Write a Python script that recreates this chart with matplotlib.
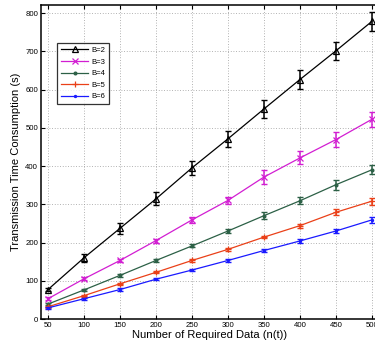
import matplotlib
matplotlib.use("Agg")
import matplotlib.pyplot as plt

plt.rcParams['font.family'] = ['Liberation Sans', 'DejaVu Sans']

n_data = [50, 100, 150, 200, 250, 300, 350, 400, 450, 500]

b2 = [77, 160, 237, 314, 395, 471, 549, 626, 701, 778]
b3 = [53, 105, 153, 205, 259, 310, 371, 421, 469, 522]
b4 = [39, 76, 114, 153, 191, 230, 270, 309, 351, 390]
b5 = [32, 61, 92, 122, 153, 182, 214, 244, 279, 308]
b6 = [29, 53, 77, 104, 128, 153, 179, 204, 230, 259]

e2 = [5, 10, 14, 17, 18, 20, 23, 24, 24, 26]
e3 = [4, 4, 5, 5, 9, 10, 19, 17, 19, 20]
e4 = [3, 3, 3, 3, 4, 5, 9, 9, 13, 12]
e5 = [3, 3, 3, 3, 3, 3, 3, 5, 8, 9]
e6 = [3, 3, 3, 3, 3, 3, 3, 4, 6, 8]

labels = ['B=2', 'B=3', 'B=4', 'B=5', 'B=6']
colors = ['#000000', '#d21ed2', '#2c6046', '#ea4018', '#1a1aff']
markers = ['^', 'x', '.', '+', '.']
msizes = [4.5, 4, 4, 5, 3]

fig = plt.figure(figsize=(3.75, 3.47), dpi=100)
W, H = 375.0, 347.0
ax = fig.add_axes([40.8 / W, (H - 319) / H, 338.2 / W, 314 / H])

series = [b2, b3, b4, b5, b6]
errs = [e2, e3, e4, e5, e6]
handles = []
for y, e, lab, c, m, ms in zip(series, errs, labels, colors, markers, msizes):
    mfc = 'none' if m == '^' else c
    ax.errorbar(n_data, y, yerr=e, fmt='none', ecolor=c, elinewidth=1.1,
                capsize=2.5, capthick=1.0)
    line, = ax.plot(n_data, y, color=c, lw=0.9, marker=m, ms=ms,
                    mfc=mfc, mec=c, mew=0.9, label=lab)
    handles.append(line)

ax.set_xlim(40, 510)
ax.set_ylim(0, 821)
ax.set_xticks(n_data)
ax.set_yticks(range(0, 801, 100))
ax.grid(True, color='#999999', linestyle=(0, (1, 2.2)), linewidth=0.6)
ax.tick_params(direction='in', length=3, width=0.8, labelsize=5.6, pad=2,
               top=True, right=True)
for s in ax.spines.values():
    s.set_linewidth(1.1)

ax.set_xlabel('Number of Required Data (n(t))', fontsize=8, labelpad=1)
ax.set_ylabel('Transmission Time Consumption (s)', fontsize=8, labelpad=3)

leg = ax.legend(handles=handles, loc='upper left',
                bbox_to_anchor=(0.048, 0.879), fontsize=5.5,
                frameon=True, fancybox=False, edgecolor='black',
                handlelength=3.6, handletextpad=0.4, labelspacing=0.55,
                borderpad=0.5, borderaxespad=0)
leg.get_frame().set_linewidth(0.9)

fig.savefig('out.png', dpi=100)
